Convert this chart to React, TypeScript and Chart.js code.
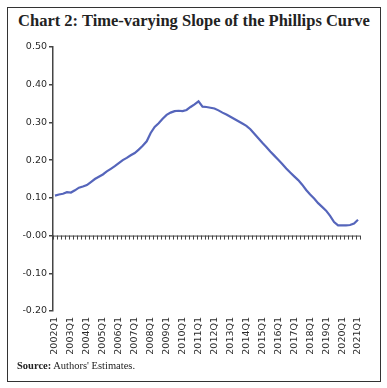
import React, { useEffect, useRef } from "react";
import { Chart, registerables } from "chart.js";

Chart.register(...registerables);

const quarterLabels: string[] = [];
for (let y = 2002; y <= 2021; y++) {
  for (let q = 1; q <= 4; q++) {
    if (y === 2021 && q > 1) break;
    quarterLabels.push(`${y}Q${q}`);
  }
}

const slopeValues = [
  0.106, 0.109, 0.111, 0.115, 0.114, 0.12, 0.127, 0.13, 0.134, 0.142,
  0.15, 0.156, 0.162, 0.17, 0.177, 0.184, 0.192, 0.2, 0.206, 0.213,
  0.219, 0.228, 0.238, 0.25, 0.272, 0.288, 0.298, 0.31, 0.32, 0.326,
  0.33, 0.331, 0.33, 0.333, 0.341, 0.348, 0.356, 0.342, 0.341, 0.339,
  0.337, 0.332, 0.326, 0.321, 0.315, 0.309, 0.303, 0.297, 0.291, 0.282,
  0.27, 0.258, 0.246, 0.235, 0.223, 0.212, 0.201, 0.19, 0.178, 0.167,
  0.157, 0.147, 0.135, 0.121, 0.109, 0.098, 0.086, 0.076, 0.066, 0.052,
  0.036, 0.027, 0.027, 0.027, 0.028, 0.032, 0.042,
];

const yMin = -0.2;
const yMax = 0.5;
const yStep = 0.1;

const axisColor = "#444";
const textColor = "#2a2a2a";
const lineColor = "#5565bb";

const zeroAxisPlugin = {
  id: "zeroAxis",
  afterDatasetsDraw(chart: any) {
    const { ctx, scales, chartArea } = chart;
    const y0 = scales.y.getPixelForValue(0);
    ctx.save();
    ctx.strokeStyle = axisColor;
    ctx.lineWidth = 1;
    ctx.beginPath();
    ctx.moveTo(chartArea.left, y0 + 0.5);
    ctx.lineTo(chartArea.right, y0 + 0.5);
    ctx.stroke();
    const n = quarterLabels.length;
    const w = (chartArea.right - chartArea.left) / n;
    for (let i = 0; i <= n; i++) {
      const px = Math.round(chartArea.left + i * w) + 0.5;
      ctx.beginPath();
      ctx.moveTo(px, y0);
      ctx.lineTo(px, y0 + 4);
      ctx.stroke();
    }
    ctx.restore();
  },
};

export default function App() {
  const ref = useRef<HTMLCanvasElement>(null);
  useEffect(() => {
    if (!ref.current) return;
    const chart = new Chart(ref.current, {
      type: "line",
      data: {
        labels: quarterLabels,
        datasets: [
          {
            data: slopeValues,
            borderColor: lineColor,
            borderWidth: 2.2,
            pointRadius: 0,
            tension: 0,
            fill: false,
          },
        ],
      },
      options: {
        animation: false,
        responsive: false,
        maintainAspectRatio: false,
        layout: { padding: { top: 47, right: 27, bottom: 0, left: 0 } },
        plugins: { legend: { display: false }, tooltip: { enabled: false }, title: { display: false } },
        scales: {
          x: {
            offset: true,
            grid: { display: false, drawTicks: false },
            border: { display: false },
            ticks: {
              autoSkip: false,
              maxRotation: 90,
              minRotation: 90,
              padding: 6,
              color: textColor,
              font: { family: "DejaVu Sans", size: 9.5 },
              callback: (_v: any, i: number) => (quarterLabels[i].endsWith("Q1") ? quarterLabels[i] : ""),
            },
            afterFit: (s: any) => {
              s.height = 77;
            },
          },
          y: {
            min: yMin,
            max: yMax,
            grid: { display: true, drawOnChartArea: false, tickLength: 4, color: axisColor, lineWidth: 1.5 },
            border: { display: true, color: axisColor, width: 1.5 },
            ticks: {
              stepSize: yStep,
              padding: 2,
              color: textColor,
              font: { family: "DejaVu Sans", size: 9.5 },
              callback: (v: any) => Number(v).toFixed(2),
            },
            afterFit: (s: any) => {
              s.width = 53;
            },
          },
        },
      },
      plugins: [zeroAxisPlugin],
    });
    return () => chart.destroy();
  }, []);

  return (
    <div style={{ position: "absolute", left: 0, top: 0, width: 387, height: 388 }}>
      <div
        style={{
          position: "absolute",
          left: 7,
          top: 7,
          width: 372,
          height: 373,
          border: "1px solid #333",
        }}
      />
      <div
        style={{
          position: "absolute",
          left: 7,
          top: 11,
          width: 374,
          textAlign: "center",
          fontFamily: "'Liberation Serif', serif",
          fontWeight: "bold",
          fontSize: 16.5,
          color: "#222",
          whiteSpace: "nowrap",
        }}
      >
        Chart 2: Time-varying Slope of the Phillips Curve
      </div>
      <canvas ref={ref} width={387} height={388} style={{ position: "absolute", left: 0, top: 0 }} />
      <div
        style={{
          position: "absolute",
          left: 17,
          top: 360,
          fontFamily: "'Liberation Serif', serif",
          fontSize: 10.5,
          color: "#222",
          whiteSpace: "nowrap",
        }}
      >
        <b>Source:</b> Authors' Estimates.
      </div>
    </div>
  );
}
